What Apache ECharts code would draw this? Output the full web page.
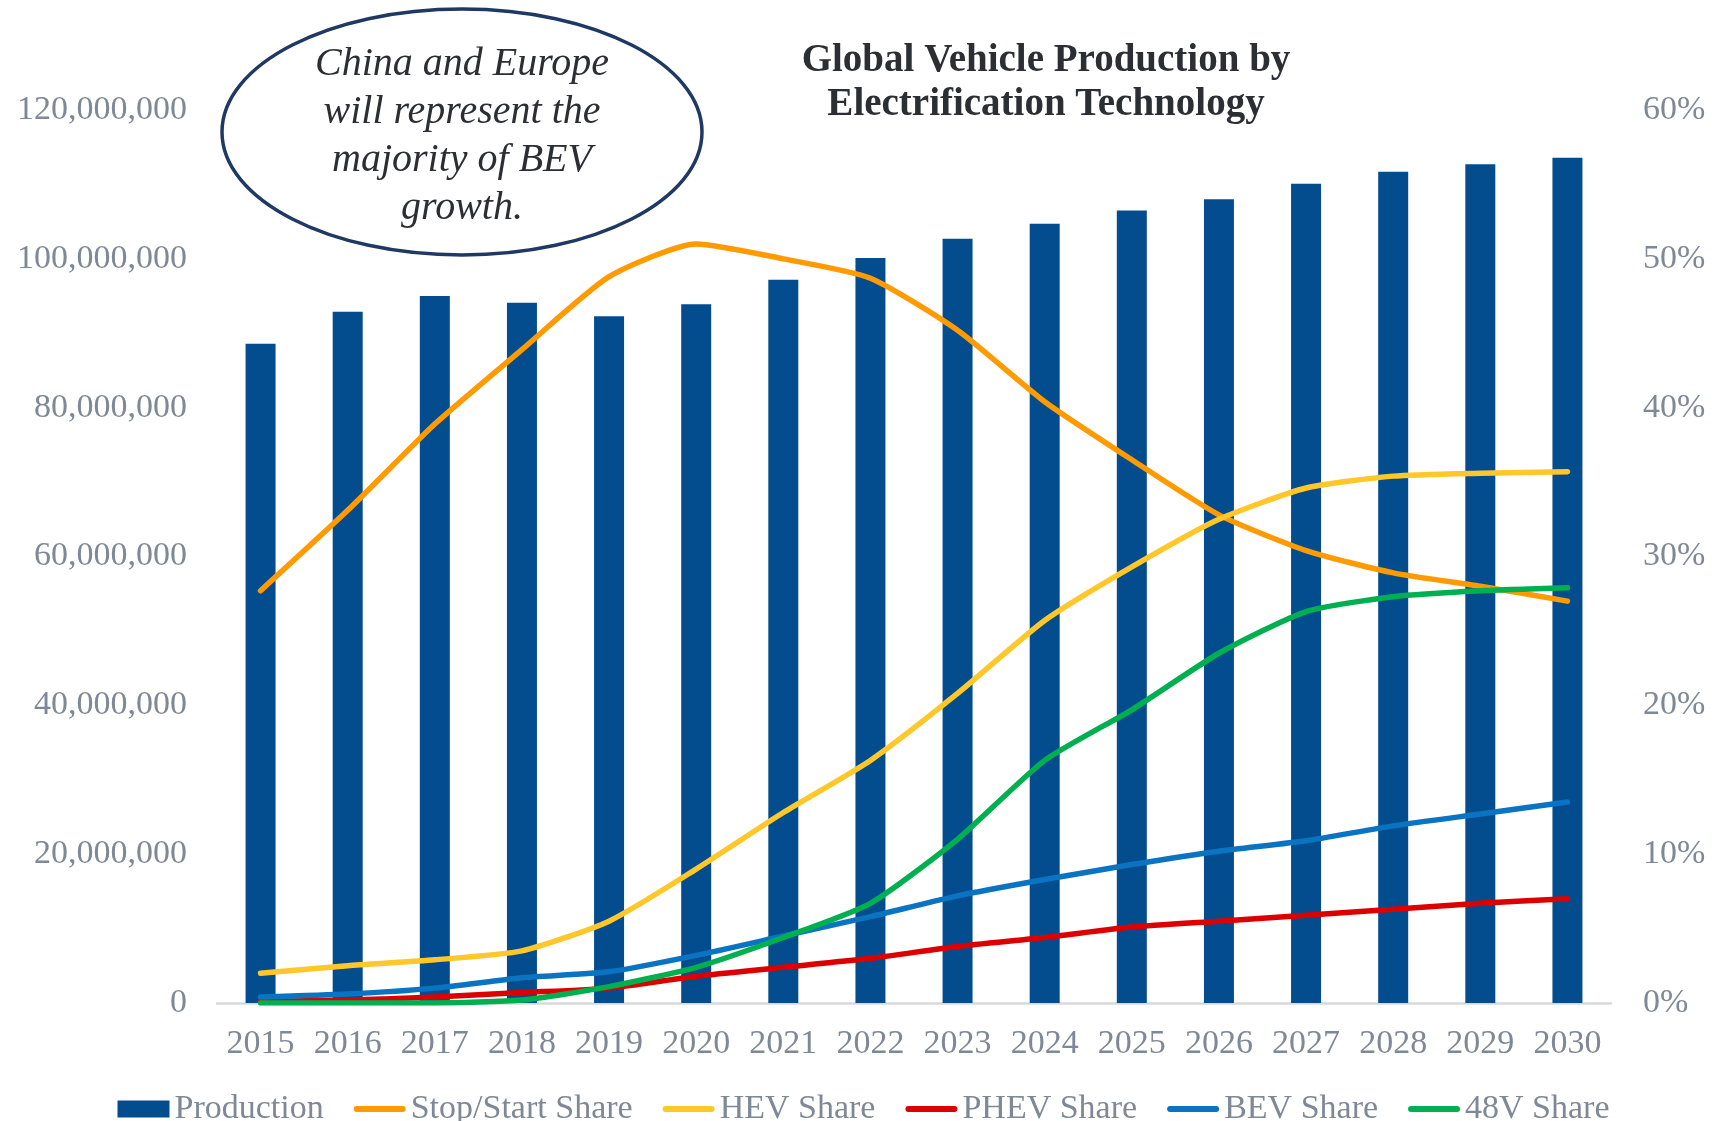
<!DOCTYPE html>
<html>
<head>
<meta charset="utf-8">
<script src="https://cdn.jsdelivr.net/npm/echarts@6/dist/echarts.min.js"></script>
<style>
  html, body { margin: 0; padding: 0; background: #fff; }
  #main_container { width: 1727px; height: 1121px; overflow: hidden; }
</style>
</head>
<body>
<div id="main_container"></div>
<script>
// chart data
var years = ["2015", "2016", "2017", "2018", "2019", "2020", "2021", "2022",
  "2023", "2024", "2025", "2026", "2027", "2028", "2029", "2030"];
var production = [88600000, 92900000, 95000000, 94100000, 92300000, 93900000, 97200000, 100100000,
  102700000, 104700000, 106500000, 108000000, 110100000, 111700000, 112700000, 113600000];
// shares in percent
var stopStartShare = [27.7, 33.1, 38.9, 43.9, 48.8, 51.0, 50.0, 48.7, 45.2, 40.4, 36.5, 32.8, 30.4, 28.9, 28.0, 27.0];
var hevShare = [2.0, 2.5, 2.9, 3.5, 5.5, 9.0, 12.8, 16.3, 20.8, 25.7, 29.3, 32.5, 34.6, 35.4, 35.6, 35.7];
var phevShare = [0.1, 0.2, 0.4, 0.7, 1.0, 1.8, 2.4, 3.0, 3.8, 4.4, 5.1, 5.5, 5.9, 6.3, 6.7, 7.0];
var bevShare = [0.4, 0.6, 1.0, 1.7, 2.1, 3.2, 4.5, 5.8, 7.2, 8.3, 9.3, 10.2, 10.9, 11.9, 12.7, 13.5];
var share48V = [0.0, 0.0, 0.0, 0.2, 1.1, 2.4, 4.4, 6.7, 11.0, 16.3, 19.7, 23.5, 26.3, 27.3, 27.7, 27.9];

var titleLines = "Global Vehicle Production by\nElectrification Technology";
var noteText = "China and Europe\nwill represent the\nmajority of BEV\ngrowth.";

var labelColor = "#7f8896";
var serif = "'Liberation Serif', 'DejaVu Serif', serif";
// flat rounded bar used as legend mark for the line series
var lineIcon = "path://M3,0 L49,0 A3,3 0 0 1 49,6 L3,6 A3,3 0 0 1 3,0 Z";

function lineSeries(name, data, color) {
  return {
    name: name,
    type: "line",
    yAxisIndex: 1,
    data: data,
    symbol: "none",
    smooth: 0.2,
    lineStyle: { color: color, width: 5.5, cap: "round", join: "round" },
    itemStyle: { color: color },
    z: 3
  };
}

var myChart = echarts.init(document.getElementById("main_container"));
myChart.setOption({
  animation: false,
  backgroundColor: "#ffffff",
  title: {
    text: titleLines,
    left: 1041,
    textAlign: "center",
    top: 34,
    textStyle: {
      fontFamily: serif,
      fontWeight: "bold",
      fontSize: 39,
      lineHeight: 44,
      color: "#2b2e33"
    }
  },
  grid: {
    left: 217,
    right: 116,
    top: 110,
    bottom: 118,
    containLabel: false
  },
  legend: {
    left: "center",
    top: 1087,
    itemWidth: 52,
    itemHeight: 17,
    itemGap: 30,
    symbolKeepAspect: true,
    textStyle: {
      fontFamily: serif,
      fontSize: 34,
      color: labelColor
    },
    data: [
      { name: "Production", icon: "rect" },
      { name: "Stop/Start Share", icon: lineIcon },
      { name: "HEV Share", icon: lineIcon },
      { name: "PHEV Share", icon: lineIcon },
      { name: "BEV Share", icon: lineIcon },
      { name: "48V Share", icon: lineIcon }
    ]
  },
  xAxis: {
    type: "category",
    data: years,
    boundaryGap: true,
    axisLine: { show: true, lineStyle: { color: "#d9d9d9", width: 2.5 } },
    axisTick: { show: false },
    axisLabel: {
      interval: 0,
      margin: 24,
      fontFamily: serif,
      fontSize: 34,
      color: labelColor
    }
  },
  yAxis: [
    {
      type: "value",
      min: 0,
      max: 120000000,
      interval: 20000000,
      splitLine: { show: false },
      axisLine: { show: false },
      axisTick: { show: false },
      axisLabel: {
        margin: 30,
        fontFamily: serif,
        fontSize: 34,
        color: labelColor,
        formatter: function (v) { return v.toLocaleString("en-US"); }
      }
    },
    {
      type: "value",
      min: 0,
      max: 60,
      interval: 10,
      splitLine: { show: false },
      axisLine: { show: false },
      axisTick: { show: false },
      axisLabel: {
        margin: 32,
        fontFamily: serif,
        fontSize: 34,
        color: labelColor,
        formatter: "{value}%"
      }
    }
  ],
  series: [
    {
      name: "Production",
      type: "bar",
      data: production,
      barWidth: 30,
      itemStyle: { color: "#034d8e" },
      z: 2
    },
    lineSeries("Stop/Start Share", stopStartShare, "#ff9a00"),
    lineSeries("HEV Share", hevShare, "#ffc729"),
    lineSeries("PHEV Share", phevShare, "#dd0000"),
    lineSeries("BEV Share", bevShare, "#0a73c2"),
    lineSeries("48V Share", share48V, "#00b050")
  ],
  graphic: [
    {
      type: "ellipse",
      shape: { cx: 462, cy: 132, rx: 240, ry: 123 },
      style: { fill: "#ffffff", stroke: "#1f3864", lineWidth: 3.5 },
      z: 10
    },
    {
      type: "text",
      x: 462,
      y: 136,
      style: {
        text: noteText,
        textAlign: "center",
        textVerticalAlign: "middle",
        fontFamily: serif,
        fontStyle: "italic",
        fontSize: 40,
        lineHeight: 48,
        fill: "#2b2e33"
      },
      z: 11
    }
  ]
});
</script>
</body>
</html>
